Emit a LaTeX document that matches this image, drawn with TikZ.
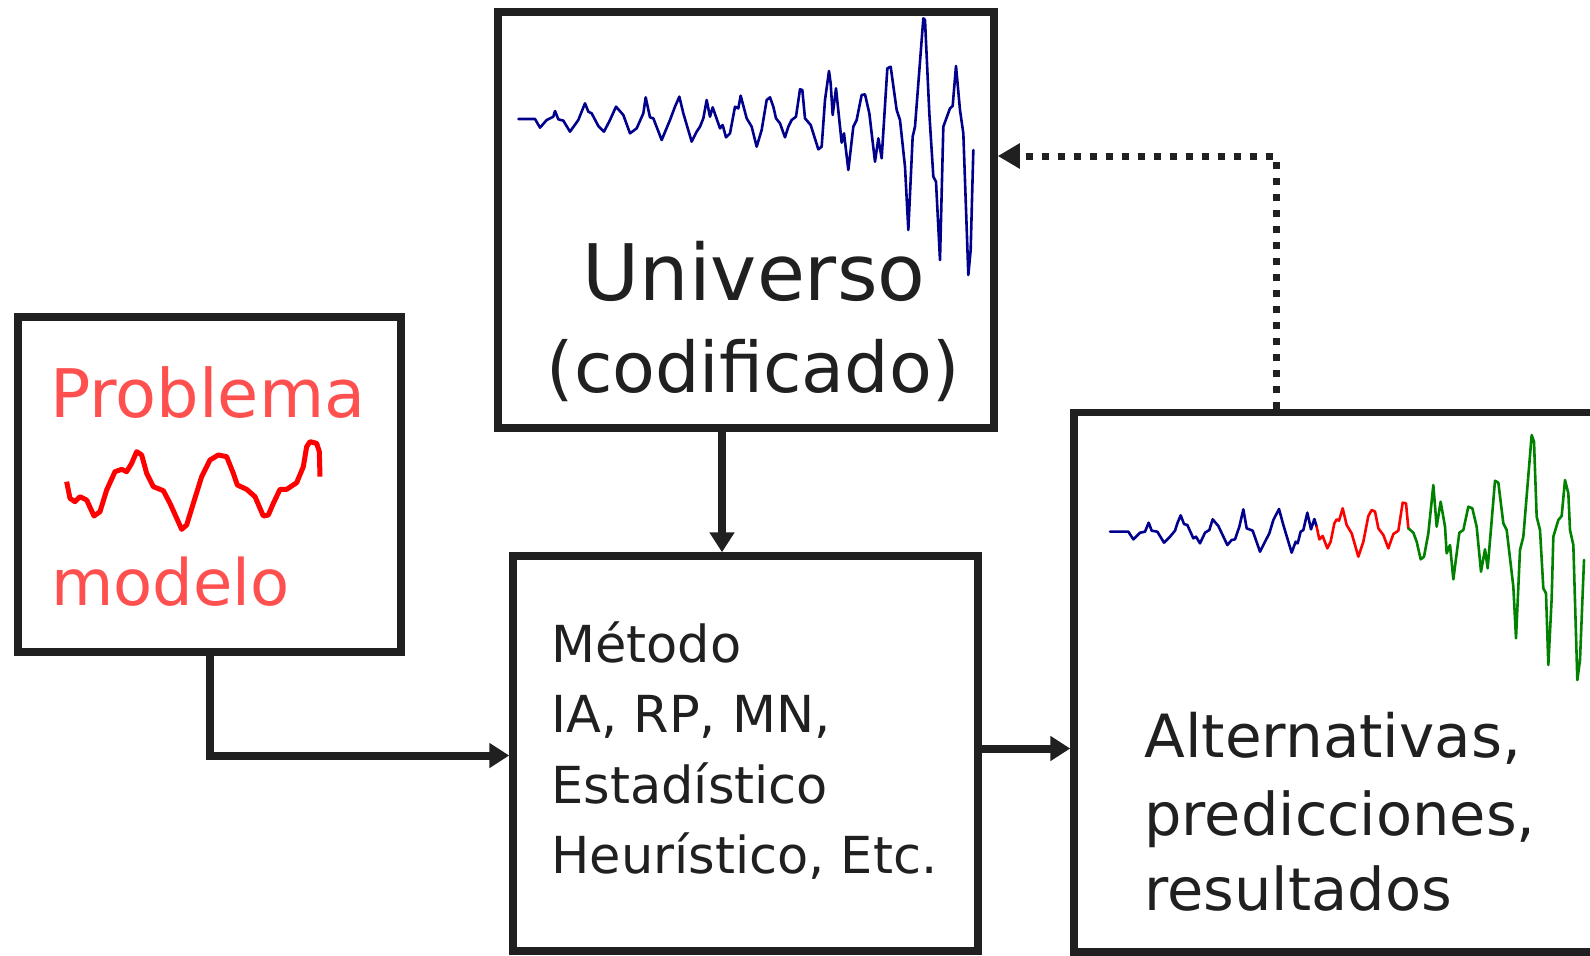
\documentclass[tikz,border=0pt]{standalone}
\usepackage{fontspec}
\setmainfont{DejaVu Sans}
\usetikzlibrary{arrows.meta,calc}
\definecolor{ink}{RGB}{32,32,32}
\definecolor{redtxt}{RGB}{255,80,80}
\definecolor{wnavy}{RGB}{0,0,140}
\definecolor{wgreen}{RGB}{0,130,0}
\definecolor{wred}{RGB}{255,0,0}
\tikzset{
  box/.style={draw=ink, line width=3.75pt, fill=white, inner sep=0pt, rectangle},
  txt/.style={inner sep=0pt, anchor=base west, text=ink},
  arr/.style={draw=ink, line width=4pt, -{Triangle[length=10pt,width=12pt]}},
  dotarr/.style={draw=ink, line width=3.5pt, dash pattern=on 3.5pt off 4.5pt, -{Triangle[length=11pt,width=12pt]}},
  wave/.style={line width=1.3pt, line join=round, line cap=round},
}
\begin{document}
\begin{tikzpicture}[x=0.5pt,y=-0.5pt]
\useasboundingbox (0,0) rectangle (1590,955);
\clip (0,0) rectangle (1590,955);
\fill[white] (0,0) rectangle (1590,955);

% boxes
\node[box, minimum width=248pt, minimum height=208pt] (univ) at (746,220) {};
\node[box, minimum width=191.5pt, minimum height=167.5pt] (prob) at (209.5,484.5) {};
\node[box, minimum width=232.5pt, minimum height=197.5pt] (met) at (745.5,753.5) {};
\node[box, minimum width=283pt, minimum height=269.75pt] (alt) at (1357,682.25) {};

% Universo waveform
\begin{scope}[shift={(490,0)}, scale=1/3]
\draw[wave, wnavy] (85,357) -- (135,357) -- (150,383) -- (170,360) -- (190,350) -- (195,333) -- (205,358) -- (220,362) -- (240,395) -- (265,360) -- (285,310) -- (295,335) -- (305,340) -- (325,378) -- (342,395) -- (360,360) -- (378,320) -- (400,345) -- (420,400) -- (440,385) -- (460,340) -- (467,292) -- (480,352) -- (490,355) -- (515,420) -- (540,360) -- (555,320) -- (568,290) -- (580,340) -- (605,425) -- (620,395) -- (630,380) -- (640,355) -- (650,300) -- (660,350) -- (668,322) -- (690,385) -- (698,375) -- (708,412) -- (720,400) -- (735,320) -- (745,325) -- (752,287) -- (770,355) -- (785,380) -- (800,440) -- (815,390) -- (830,300) -- (840,292) -- (850,320) -- (858,355) -- (870,370) -- (885,412) -- (895,380) -- (905,360) -- (918,350) -- (930,268) -- (937,270) -- (945,355) -- (962,375) -- (985,448) -- (995,440) -- (1005,300) -- (1017,213) -- (1022,250) -- (1028,345) -- (1038,265) -- (1050,380) -- (1055,428) -- (1062,400) -- (1075,510) -- (1090,380) -- (1100,360) -- (1115,285) -- (1125,283) -- (1138,340) -- (1155,485) -- (1165,415) -- (1175,475) -- (1192,205) -- (1202,200) -- (1220,330) -- (1230,360) -- (1245,500) -- (1255,690) -- (1268,410) -- (1275,380) -- (1300,55) -- (1305,60) -- (1318,340) -- (1330,530) -- (1338,545) -- (1350,780) -- (1360,380) -- (1380,325) -- (1388,318) -- (1398,198) -- (1410,330) -- (1420,400) -- (1435,825) -- (1442,750) -- (1450,450);
\end{scope}

% Alternativas waveform
\begin{scope}[shift={(1070,410)}, scale=1/3]
\draw[wave, wnavy] (120,365) -- (175,365) -- (190,388) -- (210,368) -- (225,365) -- (236,338) -- (245,362) -- (262,365) -- (282,398) -- (300,380) -- (315,362) -- (322,340) -- (332,316) -- (342,342) -- (352,345) -- (370,385) -- (378,380) -- (390,400) -- (405,368) -- (418,360) -- (428,328) -- (445,348) -- (472,405) -- (485,390) -- (495,388) -- (508,350) -- (520,298) -- (530,355) -- (548,362) -- (570,425) -- (585,395) -- (598,370) -- (610,330) -- (627,297) -- (640,345) -- (665,428) -- (677,395) -- (683,400) -- (692,365) -- (700,360) -- (712,308) -- (723,358) -- (733,327) -- (740,350);
\draw[wave, wred] (740,350) -- (748,388) -- (758,378) -- (772,415) -- (782,395) -- (793,340) -- (800,328) -- (807,332) -- (818,295) -- (830,345) -- (845,370) -- (865,440) -- (880,395) -- (895,318) -- (905,300) -- (915,305) -- (925,355) -- (940,375) -- (955,415) -- (970,372) -- (985,362) -- (998,278) -- (1008,280) -- (1015,355);
\draw[wave, wgreen] (1015,355) -- (1030,368) -- (1040,395) -- (1052,448) -- (1062,440) -- (1075,370) -- (1090,225) -- (1100,350) -- (1112,275) -- (1125,350) -- (1130,430) -- (1140,405) -- (1150,508) -- (1168,368) -- (1180,360) -- (1195,290) -- (1207,295) -- (1220,350) -- (1233,485) -- (1245,418) -- (1253,475) -- (1275,212) -- (1285,218) -- (1300,340) -- (1310,360) -- (1330,530) -- (1338,685) -- (1350,420) -- (1360,380) -- (1385,75) -- (1392,95) -- (1400,320) -- (1410,360) -- (1420,535) -- (1428,550) -- (1435,765) -- (1445,565) -- (1450,380) -- (1465,330) -- (1475,318) -- (1485,210) -- (1495,250) -- (1500,360) -- (1510,405) -- (1522,810) -- (1530,750) -- (1542,450);
\end{scope}

% Problema waveform
\begin{scope}[shift={(0,300)}, scale=1/3]
\draw[wave, wred, line width=2.5pt, line cap=butt] (200,545) -- (210,595) -- (225,605) -- (240,590) -- (260,600) -- (282,648) -- (300,635) -- (320,570) -- (345,515) -- (365,508) -- (380,515) -- (395,490) -- (410,455) -- (425,465) -- (440,520) -- (460,560) -- (490,572) -- (510,610) -- (545,688) -- (560,675) -- (580,610) -- (605,530) -- (630,480) -- (655,465) -- (680,470) -- (700,520) -- (712,555) -- (740,568) -- (765,590) -- (790,648) -- (805,645) -- (820,610) -- (840,568) -- (860,568) -- (890,548) -- (910,500) -- (920,440) -- (930,425) -- (950,430) -- (958,455) -- (960,530);
\end{scope}

% texts
\node[inner sep=0pt, anchor=base, text=ink, font=\fontsize{39pt}{45pt}\selectfont] (tuniv) at (754,300) {Universo};
\node[inner sep=0pt, anchor=base, text=ink, font=\fontsize{35pt}{40pt}\selectfont] (tcod) at (753,392) {(codificado)};
\node[txt, text=redtxt, font=\fontsize{33.5pt}{38pt}\selectfont] (tprob) at (50,417) {Problema};
\node[txt, text=redtxt, font=\fontsize{32pt}{38pt}\selectfont] (tmod) at (51,605) {modelo};

\node[txt, font=\fontsize{25.5pt}{30pt}\selectfont] (m1) at (551,662) {Método};
\node[txt, font=\fontsize{25.5pt}{30pt}\selectfont] (m2) at (551,732) {IA, RP, MN,};
\node[txt, font=\fontsize{25.5pt}{30pt}\selectfont] (m3) at (551,803) {Estadístico};
\node[txt, font=\fontsize{25.5pt}{30pt}\selectfont] (m4) at (551,873) {Heurístico, Etc.};

\node[txt, font=\fontsize{29.8pt}{35pt}\selectfont] (a1) at (1144,757) {Alternativas,};
\node[txt, font=\fontsize{29.5pt}{35pt}\selectfont] (a2) at (1144,835) {predicciones,};
\node[txt, font=\fontsize{29.5pt}{35pt}\selectfont] (a3) at (1144,910) {resultados};

% connectors
\coordinate (um) at (722,0);
\draw[arr] (univ.south -| um) -- (met.north -| um);
\draw[arr] (prob.south) |- ([yshift=-1pt]met.west);
\draw[arr] ([yshift=2.5pt]met.east) -- ([yshift=2.5pt]met.east -| alt.west);
\coordinate (dt) at (1276,156);
\draw[dotarr] (alt.north -| dt) -- (dt) -- (univ.east |- dt);
\end{tikzpicture}
\end{document}
